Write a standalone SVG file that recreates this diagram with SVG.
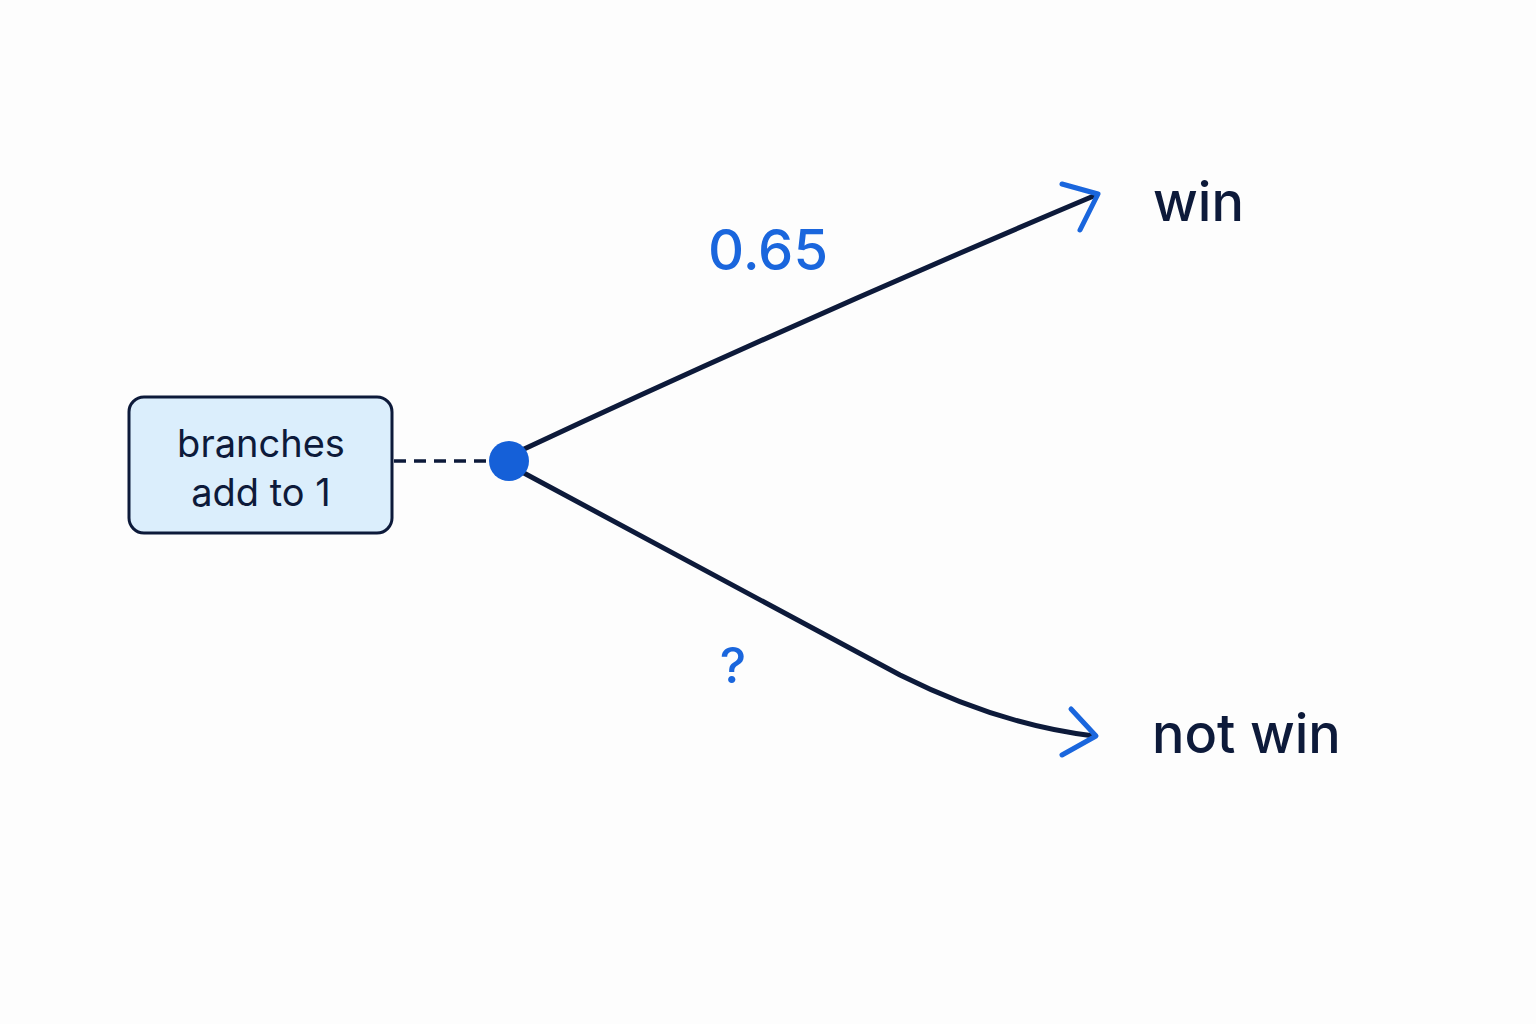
<svg xmlns="http://www.w3.org/2000/svg" width="1536" height="1024" viewBox="0 0 1536 1024">
<style>
.t{font-family:Inter,"Noto Sans",sans-serif;fill:#0d1a3a}
.b{font-family:Inter,"Noto Sans",sans-serif;fill:#1a66dd}
.e{fill:none;stroke:#0d1a3a;stroke-width:5;stroke-linecap:round}
.a{fill:none;stroke:#1a66dd;stroke-width:5;stroke-linecap:round;stroke-linejoin:round}
</style>
<rect width="1536" height="1024" fill="#fdfdfd"/>
<g id="connectors">
<line x1="394" y1="461" x2="492" y2="461" stroke="#0d1a3a" stroke-width="3.5" stroke-dasharray="12,8"/>
<path class="e" d="M522 450 Q800 320 1096 195"/>
<path class="a" d="M1062 184 L1098 194 L1080 230"/>
<path class="e" d="M522 472 Q760 600 900 675 Q1000 725 1094 736"/>
<path class="a" d="M1071 709 L1096 736 L1062 755"/>
</g>
<g id="note">
<rect x="129" y="397" width="263" height="136" rx="15" fill="#dbeefc" stroke="#0d1a3a" stroke-width="3"/>
<text class="t" x="261" y="457" font-size="38" text-anchor="middle">branches</text>
<text class="t" x="261" y="506" font-size="38" text-anchor="middle">add to 1</text>
</g>
<g id="chance"><circle cx="509" cy="461" r="20" fill="#1560d8"/></g>
<g id="labels">
<text class="b" x="768" y="270" font-size="56" font-weight="500" text-anchor="middle">0.65</text>
<text class="b" x="733" y="683" font-size="50" font-weight="500" text-anchor="middle">?</text>
</g>
<g id="win"><text class="t" x="1153" y="221" font-size="54" font-weight="500">win</text></g>
<g id="notwin"><text class="t" x="1152" y="753" font-size="54" font-weight="500">not win</text></g>
</svg>
